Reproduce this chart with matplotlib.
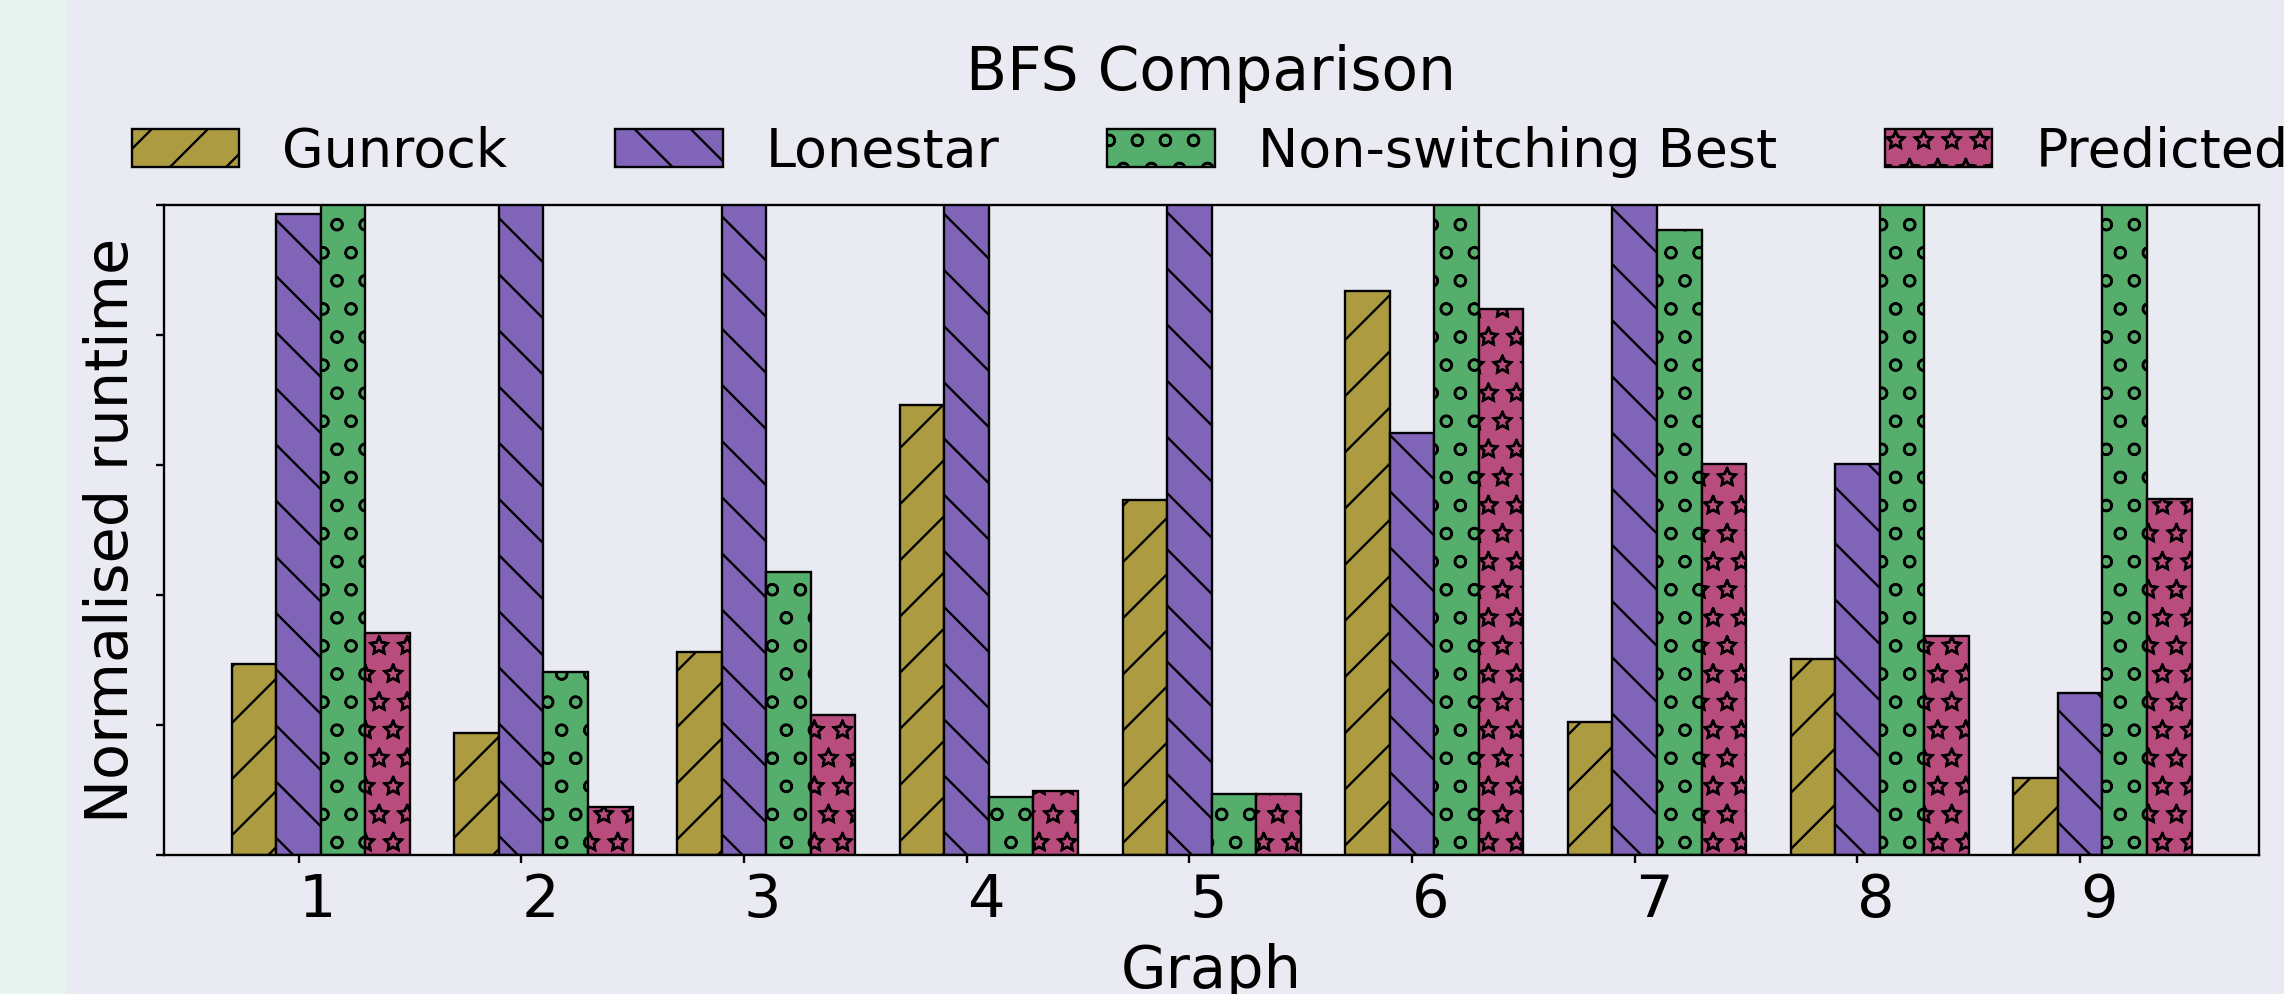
import numpy as np
import matplotlib
matplotlib.use('Agg')
import matplotlib.pyplot as plt
import matplotlib.hatch
from matplotlib.patches import Rectangle

graphs = ['1', '2', '3', '4', '5', '6', '7', '8', '9']
# bars that run past the top of the axis are clipped there
gunrock = [0.294, 0.187, 0.312, 0.693, 0.546, 0.867, 0.204, 0.301, 0.119]
lonestar = [0.986, 1.3, 1.3, 1.3, 1.3, 0.649, 1.3, 0.602, 0.249]
non_switching = [1.3, 0.281, 0.436, 0.090, 0.094, 1.3, 0.962, 1.3, 1.3]
predicted = [0.342, 0.074, 0.216, 0.099, 0.094, 0.840, 0.602, 0.337, 0.548]

series = [
    ('Gunrock', gunrock, '#AC9B40', '//'),
    ('Lonestar', lonestar, '#8064B7', '\\\\'),
    ('Non-switching Best', non_switching, '#55AE6C', 'oo'),
    ('Predicted', predicted, '#B84C7C', '**'),
]

# outlined stars instead of solid ones
matplotlib.hatch.Stars.filled = False
plt.rcParams['hatch.linewidth'] = 0.5
plt.rcParams['hatch.color'] = 'black'

dpi = 337
W, H = 2284, 994
fig = plt.figure(figsize=(W / dpi, H / dpi), dpi=dpi, facecolor='#EAEAF2')
fig.patches.append(Rectangle((0, 0), 64 / W, 1, transform=fig.transFigure,
                             color='#E8F2EE', zorder=0))
ax = fig.add_axes([164 / W, 139 / H, 2095 / W, 650 / H])
ax.set_facecolor('#EAEAF2')

x = np.arange(1, len(graphs) + 1)
width = 0.2
for i, (name, vals, color, hatch) in enumerate(series):
    ax.bar(x + (i - 1) * width, vals, width, color=color, edgecolor='black',
           hatch=hatch, linewidth=0.5, label=name)

ax.set_xlim(0.396, 9.803)
ax.set_ylim(0, 1)
ax.set_yticks(np.linspace(0, 1, 6))
ax.set_yticklabels([])
ax.set_xticks(x)
ax.set_xticklabels(graphs, ha='left', fontsize=12.6)
ax.tick_params(length=1.7, width=0.5, pad=2.0)
for s in ax.spines.values():
    s.set_linewidth(0.5)
    s.set_color('black')

ax.set_xlabel('Graph', fontsize=12.6, labelpad=3)
ax.set_ylabel('Normalised runtime', fontsize=12.6, labelpad=1.5)
ax.set_title('BFS Comparison', fontsize=12.8, pad=24.6)
ax.legend(loc='center', bbox_to_anchor=(0.4993, 1.0817), ncol=4, frameon=False,
          fontsize=11.5)

fig.savefig('out.png', dpi=dpi, facecolor=fig.get_facecolor())
